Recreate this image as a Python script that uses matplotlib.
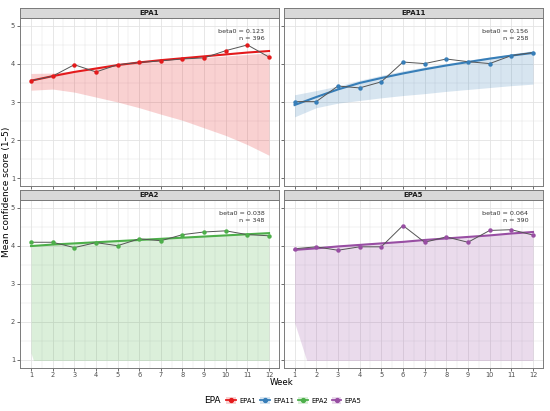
import numpy as np
import matplotlib
matplotlib.use("Agg")
import matplotlib.pyplot as plt
from matplotlib.patches import Rectangle, Patch
from matplotlib.lines import Line2D
from matplotlib.offsetbox import HPacker

plt.rcParams.update({'font.family': 'DejaVu Sans'})

weeks = np.arange(1, 13)
epas = ['EPA1', 'EPA11', 'EPA2', 'EPA5']
colors = {'EPA1': '#E41A1C', 'EPA11': '#377EB8', 'EPA2': '#4DAF4A', 'EPA5': '#984EA3'}

# weekly means
means = {
    'EPA1':  [3.56, 3.68, 3.98, 3.79, 3.98, 4.04, 4.08, 4.13, 4.16, 4.35, 4.50, 4.18],
    'EPA11': [3.01, 3.01, 3.42, 3.37, 3.53, 4.05, 4.01, 4.13, 4.06, 4.01, 4.22, 4.30],
    'EPA2':  [4.09, 4.09, 3.95, 4.08, 4.00, 4.18, 4.13, 4.29, 4.36, 4.39, 4.29, 4.26],
    'EPA5':  [3.92, 3.97, 3.88, 3.97, 3.97, 4.53, 4.09, 4.23, 4.09, 4.40, 4.42, 4.28],
}
# fitted curve
fits = {
    'EPA1':  [3.56, 3.68, 3.79, 3.88, 3.97, 4.04, 4.10, 4.15, 4.20, 4.25, 4.30, 4.34],
    'EPA11': [2.92, 3.13, 3.33, 3.50, 3.63, 3.75, 3.86, 3.96, 4.05, 4.14, 4.22, 4.29],
    'EPA2':  [3.99, 4.03, 4.06, 4.09, 4.12, 4.15, 4.18, 4.21, 4.24, 4.27, 4.30, 4.33],
    'EPA5':  [3.89, 3.93, 3.98, 4.02, 4.06, 4.10, 4.15, 4.19, 4.23, 4.27, 4.32, 4.36],
}
# band limits
upper = {
    'EPA1':  [3.75, 3.76, 3.82, 3.90, 3.97, 4.03, 4.08, 4.13, 4.17, 4.21, 4.25, 4.29],
    'EPA11': [3.19, 3.30, 3.42, 3.57, 3.70, 3.82, 3.92, 4.01, 4.10, 4.18, 4.26, 4.35],
    'EPA2':  [4.01, 4.05, 4.08, 4.11, 4.14, 4.17, 4.20, 4.23, 4.26, 4.29, 4.32, 4.35],
    'EPA5':  [3.95, 3.97, 4.01, 4.05, 4.09, 4.13, 4.17, 4.21, 4.25, 4.29, 4.33, 4.37],
}
lower = {
    'EPA1':  [3.31, 3.34, 3.26, 3.13, 3.00, 2.85, 2.68, 2.52, 2.32, 2.12, 1.88, 1.60],
    'EPA11': [2.61, 2.85, 2.97, 3.04, 3.11, 3.17, 3.22, 3.28, 3.33, 3.38, 3.43, 3.47],
    'EPA2':  [1.18, -0.6, 0.0, 0.0, 0.0, 0.0, 0.0, 0.0, 0.0, 0.0, 0.0, 0.0],
    'EPA5':  [1.98, 0.2, 0.0, 0.0, 0.0, 0.0, 0.0, 0.0, 0.0, 0.0, 0.0, 0.0],
}
beta0 = {'EPA1': '0.123', 'EPA11': '0.156', 'EPA2': '0.038', 'EPA5': '0.064'}
n_obs = {'EPA1': 396, 'EPA11': 258, 'EPA2': 348, 'EPA5': 390}

W, H = 550, 411
fig = plt.figure(figsize=(W / 100, H / 100), dpi=100)

def box(x0, y0, x1, y1):
    return [x0 / W, 1 - y1 / H, (x1 - x0) / W, (y1 - y0) / H]

# panel (left, top, right, bottom, strip top) in pixels
panels = {
    'EPA1': (20, 18.3, 279, 185.7, 8.3),
    'EPA11': (283.5, 18.3, 543, 185.7, 8.3),
    'EPA2': (20, 200, 279, 367.5, 190),
    'EPA5': (283.5, 200, 543, 367.5, 190),
}
border = '#7a7a7a'

for epa in epas:
    x0, y0, x1, y1, sy = panels[epa]
    ax = fig.add_axes(box(x0, y0, x1, y1))
    col = colors[epa]
    ax.set_xlim(0.49, 12.46)
    ax.set_ylim(0.8, 5.2)
    for v in np.arange(1, 12.6, 0.5):
        ax.axvline(v, color='#e3e3e3', lw=0.6 if v % 1 == 0 else 0.35, zorder=0)
    for v in np.arange(1, 5.1, 0.5):
        ax.axhline(v, color='#e3e3e3', lw=0.6 if v % 1 == 0 else 0.35, zorder=0)

    band = ax.fill_between(weeks, lower[epa], upper[epa], color=col, alpha=0.2, lw=0, zorder=1)
    band.set_clip_path(Rectangle((0, 1), 14, 10, transform=ax.transData))
    ax.plot(weeks, fits[epa], color=col, lw=1.5, zorder=2)
    ax.plot(weeks, means[epa], color='#555555', lw=0.7, zorder=3)
    ax.plot(weeks, means[epa], 'o', color=col, ms=3.2, mew=0, zorder=4)

    ax.text(11.78, 4.84, 'beta0 = ' + beta0[epa], ha='right', va='center', fontsize=4.6, color='#333333')
    ax.text(11.78, 4.66, 'n = %d' % n_obs[epa], ha='right', va='center', fontsize=4.6, color='#333333')

    ax.set_xticks(weeks)
    ax.set_yticks([1, 2, 3, 4, 5])
    ax.tick_params(length=2, width=0.5, color='#333333', labelsize=4.8, labelcolor='#4d4d4d', pad=1.5)
    if y0 < 100:
        ax.tick_params(labelbottom=False)
    if x0 > 100:
        ax.tick_params(labelleft=False)
    for s in ax.spines.values():
        s.set_color(border)
        s.set_linewidth(0.7)

    sax = fig.add_axes(box(x0, sy, x1, y0))
    sax.set_facecolor('#d9d9d9')
    sax.set_xticks([])
    sax.set_yticks([])
    for s in sax.spines.values():
        s.set_color(border)
        s.set_linewidth(0.7)
    sax.text(0.5, 0.5, epa, ha='center', va='center', fontsize=5, fontweight='bold',
             color='#1a1a1a', transform=sax.transAxes)

fig.text(6.5 / W, 1 - 192 / H, 'Mean confidence score (1\u20135)', rotation=90,
         ha='center', va='center', fontsize=6.5)
fig.text(282 / W, 1 - 382 / H, 'Week', ha='center', va='center', fontsize=6.2)

handles = [(Patch(facecolor=colors[e], alpha=0.2, lw=0),
            Line2D([], [], color=colors[e], lw=1.3, marker='o', ms=2.8))
           for e in epas]
leg = fig.legend(handles, epas, title='EPA', loc='center', bbox_to_anchor=(283 / W, 1 - 400.5 / H),
                 ncol=4, frameon=False, fontsize=4.9, title_fontsize=6.5,
                 handlelength=1.4, handleheight=1.4, handletextpad=0.5, columnspacing=0.6)
# title to the left of the entries, as in ggplot
box_children = leg._legend_box.get_children()
leg._legend_box = HPacker(pad=0, sep=4, align='center', children=box_children)
leg._legend_box.set_figure(fig)
leg._legend_box.set_offset(leg._findoffset)

fig.savefig('out.png', dpi=100)
